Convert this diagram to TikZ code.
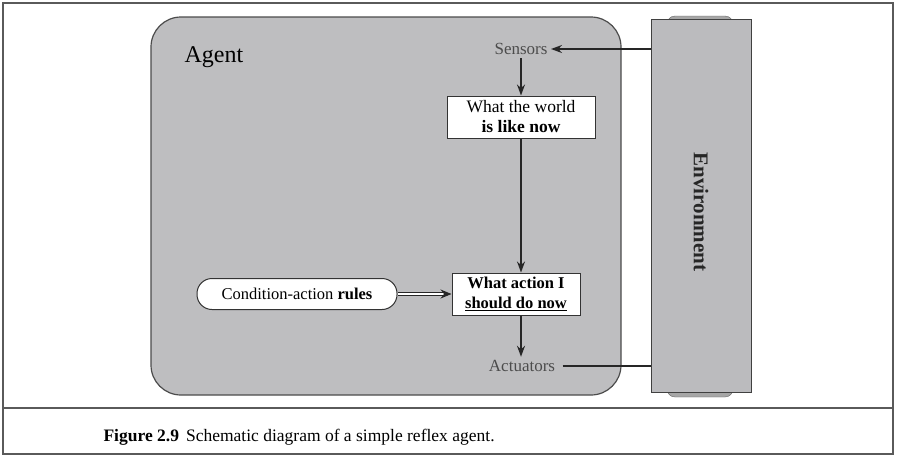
\documentclass[tikz,border=0pt]{standalone}
\usepackage{fontspec}
\setmainfont{Liberation Serif}
\usetikzlibrary{arrows.meta}
\definecolor{agentgray}{RGB}{190,190,192}
\definecolor{envgray}{RGB}{187,187,190}
\definecolor{framegray}{RGB}{90,90,90}
\tikzset{
  arr/.style={draw=black!85, line width=1.5pt, -{Stealth[length=11pt,width=8pt]}},
  wbox/.style={draw=black!80, fill=white, line width=1pt, align=center, font=\fontsize{17.5}{20}\selectfont, inner sep=1pt},
  small/.style={font=\fontsize{17}{19}\selectfont, text=black!70},
}
\begin{document}
\begin{tikzpicture}[x=1pt,y=-1pt]
\useasboundingbox (0,0) rectangle (897,456);
\fill[white] (0,0) rectangle (897,456);
% outer frame
\draw[framegray, line width=1.4pt] (3,3) rectangle (893,454);
\draw[framegray, line width=1.8pt] (3,408) -- (893,408);
% agent
\node[draw=black!70, fill=agentgray, line width=1.2pt, rounded corners=30pt, minimum width=470pt, minimum height=378pt] (agent) at (386,206) {};
\node[font=\fontsize{24}{28}\selectfont, anchor=base west] (agentlbl) at (181,62) {Agent};
% environment
\node[draw=black!60, fill=black!35, rounded corners=8pt, minimum width=66pt, minimum height=381pt] (envback) at (700,206.5) {};
\node[draw=black!75, fill=envgray, line width=1pt, minimum width=100pt, minimum height=373pt] (env) at (701,205.5) {};
\node[rotate=-90, font=\fontsize{21}{24}\selectfont\bfseries, text=black!85] (envlbl) at (701,212) {Environment};
% inner nodes
\node[small] (sensors) at (521,49) {Sensors};
\node[wbox, minimum width=148pt, minimum height=42pt] (world) at (521,117) {What the world\\ \textbf{is like now}};
\node[wbox, font=\fontsize{16.5}{19.5}\selectfont\bfseries, minimum width=128pt, minimum height=42pt] (action) at (516,294) {What action I\\ \underline{should do now}};
\node[draw=black!80, fill=white, line width=1pt, rounded corners=15pt, minimum width=200pt, minimum height=31pt, font=\fontsize{16.5}{19}\selectfont] (cond) at (297,294) {Condition-action \textbf{rules}};
\node[small] (actuators) at (522,366) {Actuators};
% connectors
\draw[arr] (sensors.east -| env.west) -- (sensors.east);
\draw[arr] (sensors.south) -- (sensors.south |- world.north);
\draw[arr] (world.south) -- (world.south |- action.north);
\draw[arr] (action.south -| world.south) -- (actuators.north -| world.south);
\draw[black!85, line width=1.5pt] ([xshift=4pt]actuators.east) -- (actuators.east -| env.west);
\draw[double=white, double distance=2.5pt, line width=1pt, draw=black!85, -{Stealth[length=11pt,width=9pt]}] (cond.east) -- (action.west);
% caption
\node[anchor=base west, font=\fontsize{17.5}{20}\selectfont] (caption) at (100,441) {\textbf{Figure 2.9}\hspace{0.4em}Schematic diagram of a simple reflex agent.};
\end{tikzpicture}
\end{document}
